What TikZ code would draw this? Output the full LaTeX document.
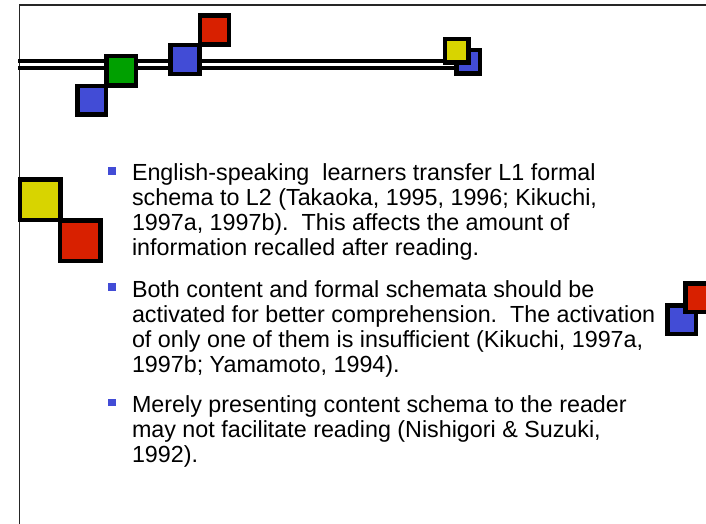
\documentclass[tikz,border=0pt]{standalone}
\usepackage{fontspec}
\setmainfont{Liberation Sans}
\definecolor{tileblue}{RGB}{66,76,214}
\definecolor{tilered}{RGB}{216,32,0}
\definecolor{tilegreen}{RGB}{0,160,0}
\definecolor{tileyellow}{RGB}{216,212,0}
\begin{document}
\begin{tikzpicture}[x=1bp,y=-1bp,
  frame/.style={draw=black!85, line width=1.2bp},
  rail/.style={draw=black, line width=4bp},
  tile/.style={rectangle, draw=black, fill=#1, line width=4.5bp, inner sep=0pt, outer sep=0pt},
  bulletmark/.style={rectangle, fill=tileblue, minimum size=7.2bp, inner sep=0pt, outer sep=0pt},
  % the node's base anchor sits on the baseline of the last line
  para/.style={anchor=base west, align=left, inner sep=0pt, outer sep=0pt,
    font=\fontsize{23.3bp}{25bp}\selectfont\frenchspacing}]
\useasboundingbox (0,0) rectangle (706,524);
\clip (0,0) rectangle (706,524);

% slide frame
\draw[frame] (19.5,524) -- (19.5,5) -- (706,5);

% double rule across the header
\draw[rail] (18,61.5) -- (465,61.5);
\draw[rail] (18,68) -- (465,68);

% header tiles
\node[tile=tileblue,  minimum size=28.5bp] (blueA)  at (91.5,100.5) {};
\node[tile=tilegreen, minimum size=29.5bp] (greenA) at (121,71) {};
\node[tile=tileblue,  minimum size=29bp]   (blueB)  at (185,59.5) {};
\node[tile=tilered,   minimum size=29bp]   (redA)   at (214.5,30) {};
\node[tile=tileblue,  minimum size=23.5bp] (blueC)  at (468,62) {};
\node[tile=tileyellow,minimum size=23.5bp] (yellowA) at (456.5,50.7) {};

% left margin tiles
\node[tile=tileyellow,minimum size=40.5bp] (yellowB) at (40,200) {};
\node[tile=tilered,   minimum size=40.5bp] (redB)    at (80,240.7) {};

% right margin tiles
\node[tile=tileblue,  minimum size=28.5bp] (blueD) at (681.5,319.5) {};
\node[tile=tilered,   minimum size=28.5bp] (redC)  at (699.5,297.5) {};

% bullet points
\node[bulletmark] (b1) at (112,171) {};
\node[para] (p1) at (132,256) {English-speaking\ \ learners transfer L1 formal\\
schema to L2 (Takaoka, 1995, 1996; Kikuchi,\\
1997a, 1997b).\ \ This affects the amount of\\
information recalled after reading.};

\node[bulletmark] (b2) at (112,287) {};
\node[para] (p2) at (132,372) {Both content and formal schemata should be\\
activated for better comprehension.\ \ The activation\\
of only one of them is insufficient (Kikuchi, 1997a,\\
1997b; Yamamoto, 1994).};

\node[bulletmark] (b3) at (112,402.5) {};
\node[para] (p3) at (132,462) {Merely presenting content schema to the reader\\
may not facilitate reading (Nishigori \& Suzuki,\\
1992).};
\end{tikzpicture}
\end{document}
